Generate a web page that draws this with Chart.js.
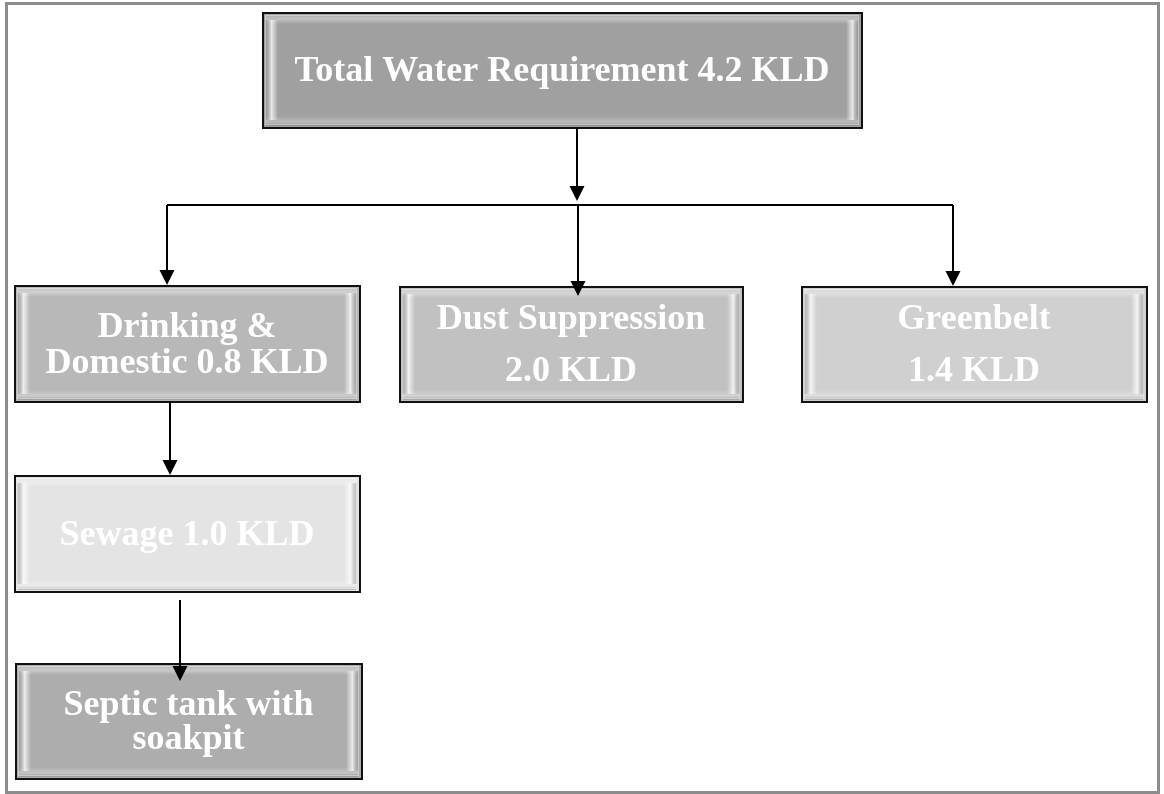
<!DOCTYPE html>
<html>
<head>
<meta charset="utf-8">
<script src="https://cdn.jsdelivr.net/npm/chart.js@4/dist/chart.umd.min.js"></script>
<style>
  html, body { margin: 0; padding: 0; background: #ffffff; }
  #wrap { width: 1164px; height: 794px; position: relative; }
</style>
</head>
<body>
<div id="wrap"><canvas id="flowChart"></canvas></div>
<script>
// Nodes of the water balance flow (names and KLD values)
const nodeNames = ['Total Water Requirement', 'Drinking & Domestic', 'Dust Suppression', 'Greenbelt', 'Sewage', 'Septic tank with soakpit'];
const nodeValues = [4.2, 0.8, 2.0, 1.4, 1.0, null];
const unit = 'KLD';

// How each label is split into lines ({v} = value + unit)
const labelLines = [
    ['Total Water Requirement {v}'],
    ['Drinking &', 'Domestic {v}'],
    ['Dust Suppression', '{v}'],
    ['Greenbelt', '{v}'],
    ['Sewage {v}'],
    ['Septic tank with', 'soakpit']
];

// Layout (in scale units, same size as the canvas): x0, y0, x1, y1
const boxLayout = [
    [262, 12, 862, 128],
    [14, 285, 360, 402],
    [399, 286, 743, 402],
    [801, 286, 1147, 402],
    [14, 475, 360, 592],
    [15, 663, 362, 779]
];
const boxFill = ['#a0a0a0', '#b8b8b8', '#c1c1c1', '#d0d0d0', '#e4e4e4', '#adadad'];
const lineGap = [0, 36, 52, 52, 0, 34];

// Connectors: polylines, last point gets an arrowhead
const connectors = [
    [[577, 128], [577, 201]],
    [[167, 205], [953, 205]],
    [[167, 205], [167, 285]],
    [[578, 205], [578, 296]],
    [[953, 205], [953, 286]],
    [[170, 402], [170, 475]],
    [[180, 600], [180, 681]]
];
const arrowEnds = [true, false, true, true, true, true, true];

const fmt = (i, line) => line.replace('{v}', nodeValues[i] != null ? nodeValues[i].toFixed(1) + ' ' + unit : '');

const flowPlugin = {
    id: 'flow',
    afterDatasetsDraw(chart) {
        const ctx = chart.ctx;
        const sx = chart.scales.x, sy = chart.scales.y;
        const px = v => sx.getPixelForValue(v);
        const py = v => sy.getPixelForValue(v);
        ctx.save();

        // outer frame
        ctx.strokeStyle = '#8c8c8c';
        ctx.lineWidth = 3;
        ctx.strokeRect(px(6.5), py(3.5), px(1158.5) - px(6.5), py(792.5) - py(3.5));

        // boxes
        boxLayout.forEach((b, i) => {
            const x0 = px(b[0]), y0 = py(b[1]), x1 = px(b[2]), y1 = py(b[3]);
            const w = x1 - x0, h = y1 - y0;
            ctx.fillStyle = '#111';
            ctx.fillRect(x0, y0, w + 1, h + 1);
            ctx.fillStyle = boxFill[i];
            ctx.fillRect(x0 + 2, y0 + 2, w - 3, h - 3);
            // bevel: top/bottom strips
            let g = ctx.createLinearGradient(0, y0 + 2, 0, y0 + 12);
            g.addColorStop(0, 'rgba(255,255,255,0.1)');
            g.addColorStop(0.5, 'rgba(255,255,255,0.35)');
            g.addColorStop(1, 'rgba(255,255,255,0)');
            ctx.fillStyle = g;
            ctx.fillRect(x0 + 4, y0 + 3, w - 8, 10);
            g = ctx.createLinearGradient(0, y1 - 12, 0, y1 - 2);
            g.addColorStop(0, 'rgba(255,255,255,0)');
            g.addColorStop(0.6, 'rgba(255,255,255,0.3)');
            g.addColorStop(1, 'rgba(90,90,90,0.3)');
            ctx.fillStyle = g;
            ctx.fillRect(x0 + 4, y1 - 12, w - 8, 10);
            // left/right strips
            g = ctx.createLinearGradient(x0 + 3, 0, x0 + 16, 0);
            g.addColorStop(0, 'rgba(120,120,120,0.3)');
            g.addColorStop(0.5, 'rgba(255,255,255,0.75)');
            g.addColorStop(1, 'rgba(255,255,255,0)');
            ctx.fillStyle = g;
            ctx.fillRect(x0 + 3, y0 + 8, 13, h - 16);
            g = ctx.createLinearGradient(x1 - 16, 0, x1 - 3, 0);
            g.addColorStop(0, 'rgba(255,255,255,0)');
            g.addColorStop(0.5, 'rgba(255,255,255,0.75)');
            g.addColorStop(1, 'rgba(120,120,120,0.3)');
            ctx.fillStyle = g;
            ctx.fillRect(x1 - 16, y0 + 8, 13, h - 16);
            ctx.strokeStyle = 'rgba(255,255,255,0.4)';
            ctx.lineWidth = 1;
            ctx.strokeRect(x0 + 3.5, y0 + 3.5, w - 7, h - 7);

            // label
            ctx.fillStyle = '#ffffff';
            ctx.font = 'bold 36px "Liberation Serif", "DejaVu Serif", serif';
            ctx.textAlign = 'center';
            ctx.textBaseline = 'middle';
            const lines = labelLines[i].map(l => fmt(i, l));
            const cx = (x0 + x1) / 2, cy = (y0 + y1) / 2 + 2;
            const start = cy - (lines.length - 1) * lineGap[i] / 2;
            lines.forEach((l, k) => ctx.fillText(l, cx, start + k * lineGap[i]));
        });

        // connectors
        ctx.strokeStyle = '#000';
        ctx.fillStyle = '#000';
        ctx.lineWidth = 2;
        connectors.forEach((c, i) => {
            const pts = c.map(p => [px(p[0]), py(p[1])]);
            const n = pts.length;
            const end = pts[n - 1], prev = pts[n - 2];
            const ang = Math.atan2(end[1] - prev[1], end[0] - prev[0]);
            const ah = arrowEnds[i] ? 15 : 0;
            ctx.beginPath();
            ctx.moveTo(pts[0][0], pts[0][1]);
            for (let k = 1; k < n - 1; k++) ctx.lineTo(pts[k][0], pts[k][1]);
            ctx.lineTo(end[0] - Math.cos(ang) * ah, end[1] - Math.sin(ang) * ah);
            ctx.stroke();
            if (arrowEnds[i]) {
                ctx.beginPath();
                ctx.moveTo(end[0], end[1]);
                ctx.lineTo(end[0] - Math.cos(ang) * ah - Math.sin(ang) * 7.5, end[1] - Math.sin(ang) * ah + Math.cos(ang) * 7.5);
                ctx.lineTo(end[0] - Math.cos(ang) * ah + Math.sin(ang) * 7.5, end[1] - Math.sin(ang) * ah - Math.cos(ang) * 7.5);
                ctx.closePath();
                ctx.fill();
            }
        });
        ctx.restore();
    }
};

new Chart(document.getElementById('flowChart'), {
    type: 'scatter',
    data: {
        datasets: [{
            label: 'nodes',
            data: boxLayout.map((b, i) => ({ x: (b[0] + b[2]) / 2, y: (b[1] + b[3]) / 2, v: nodeValues[i] })),
            pointRadius: 0
        }]
    },
    options: {
        responsive: true,
        maintainAspectRatio: false,
        animation: false,
        layout: { padding: 0 },
        plugins: { legend: { display: false }, tooltip: { enabled: false } },
        scales: {
            x: { type: 'linear', min: 0, max: 1164, display: false },
            y: { type: 'linear', min: 0, max: 794, reverse: true, display: false }
        }
    },
    plugins: [flowPlugin]
});
</script>
</body>
</html>
